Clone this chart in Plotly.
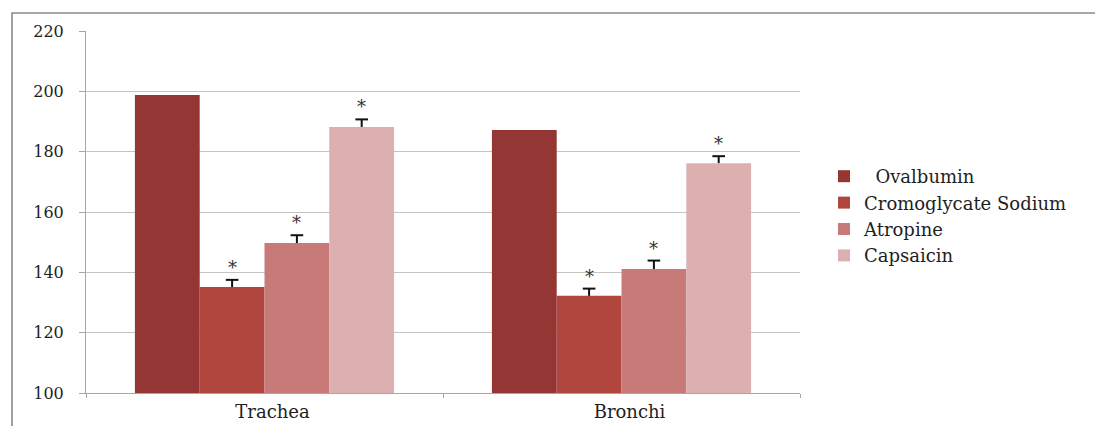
import plotly.graph_objects as go

# Tissue groups on the x axis
tissues = ["Trachea", "Bronchi"]

# Mean values per treatment (one value per tissue)
ovalbumin = [198.8, 187.2]
cromoglycate = [135.1, 132.2]
atropine = [149.7, 141.1]
capsaicin = [188.2, 176.2]

# Upper error (SEM) for the treated groups
cromoglycate_err = [2.4, 2.4]
atropine_err = [2.6, 2.8]
capsaicin_err = [2.5, 2.3]

# Significance mark shown above the treated groups
sig_mark = "*"

series = [
    ("\u00a0\u00a0Ovalbumin", ovalbumin, None, "#943634"),
    ("Cromoglycate Sodium", cromoglycate, cromoglycate_err, "#b1463f"),
    ("Atropine", atropine, atropine_err, "#c87a79"),
    ("Capsaicin", capsaicin, capsaicin_err, "#dcb0b0"),
]

serif = "DejaVu Serif"
text_color = "#1e1e1e"
bar_gap = 0.274

fig = go.Figure()
for name, vals, err, color in series:
    fig.add_trace(go.Bar(
        x=tissues, y=vals, name=name,
        marker=dict(color=color, line=dict(width=0)),
    ))

# One-sided error bars ("T" shape) and asterisks, drawn on an overlaid
# numeric axis whose range matches the category slots of the bars
slot = (1 - bar_gap) / len(series)
for i, (name, vals, err, color) in enumerate(series):
    if err is None:
        continue
    off = (i - (len(series) - 1) / 2) * slot
    xs, ys = [], []
    for k, (v, e) in enumerate(zip(vals, err)):
        xs += [k + off, k + off, None]
        ys += [v, v + e, None]
    fig.add_trace(go.Scatter(
        x=xs, y=ys, xaxis="x2", mode="lines",
        line=dict(color="#111111", width=2), showlegend=False, hoverinfo="skip",
    ))
    fig.add_trace(go.Scatter(
        x=[k + off for k in range(len(vals))], y=[v + e for v, e in zip(vals, err)],
        xaxis="x2", mode="markers",
        marker=dict(symbol="line-ew", size=9, line=dict(color="#111111", width=2)),
        showlegend=False, hoverinfo="skip",
    ))
    for k, (v, e) in enumerate(zip(vals, err)):
        fig.add_annotation(
            x=k + off, y=v + e, xref="x2", yref="y", text=sig_mark, showarrow=False,
            yshift=0, yanchor="bottom",
            font=dict(family=serif, size=18, color="#333333"),
        )

# Outer chart frame: top and left edges (the rest runs off the canvas)
fx0 = (12 - 86) / 714
fy1 = (393 - 13) / 362
fig.add_shape(
    type="path", xref="paper", yref="paper",
    path=f"M {fx0},-0.2 L {fx0},{fy1} L 1.5,{fy1}",
    line=dict(color="#8a8a8a", width=1.6),
    layer="below",
)

fig.update_layout(
    width=1095, height=426,
    margin=dict(l=86, r=295, t=31, b=33, autoexpand=False),
    paper_bgcolor="white", plot_bgcolor="white",
    barmode="group", bargap=bar_gap, bargroupgap=0,
    showlegend=True,
    legend=dict(
        x=(824 - 86) / 714, y=(393 - 158) / 362, xanchor="left", yanchor="top",
        font=dict(family=serif, size=18, color=text_color),
        bgcolor="rgba(0,0,0,0)", itemclick=False,
    ),
    font=dict(family=serif, color=text_color),
    xaxis=dict(
        type="category", automargin=False,
        showline=True, linecolor="#a6a6a6", linewidth=1,
        ticks="outside", tickson="boundaries", ticklen=4, tickcolor="#a6a6a6",
        tickfont=dict(family=serif, size=18, color=text_color),
        ticklabelshift=8, ticklabelstandoff=2,
        showgrid=False,
    ),
    xaxis2=dict(
        overlaying="x", range=[-0.5, len(tissues) - 0.5], visible=False,
        fixedrange=True,
    ),
    yaxis=dict(
        range=[100, 220], dtick=20, tick0=100, automargin=False,
        showline=True, linecolor="#a6a6a6", linewidth=1,
        ticks="outside", ticklen=6, tickcolor="#a6a6a6",
        ticklabelstandoff=12,
        showgrid=True, gridcolor="#c4c4c4", gridwidth=1,
        tickfont=dict(family=serif, size=16, color=text_color),
        zeroline=False,
    ),
)

fig.write_html("out.html")
